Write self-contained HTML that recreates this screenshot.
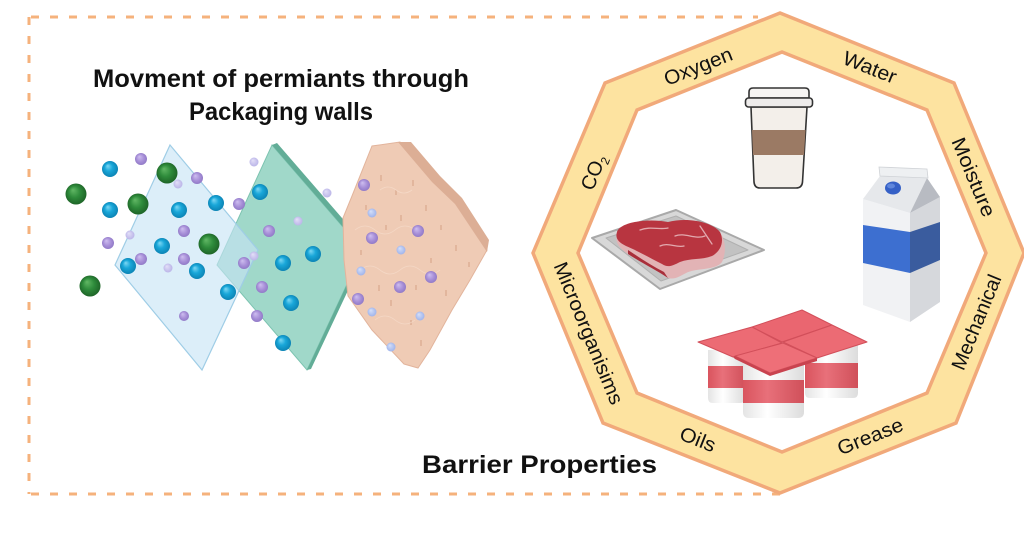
<!DOCTYPE html>
<html><head><meta charset="utf-8"><style>
html,body{margin:0;padding:0;background:#fff;}
svg{display:block;}
text{font-family:"Liberation Sans",Arial,sans-serif;}
</style></head><body>
<svg width="1024" height="552" viewBox="0 0 1024 552" xmlns="http://www.w3.org/2000/svg">
<defs>
<radialGradient id="gG" cx="50%" cy="50%" r="55%" fx="35%" fy="30%"><stop offset="0" stop-color="#62b865"/><stop offset="0.5" stop-color="#2e8b3b"/><stop offset="1" stop-color="#1c5f25"/></radialGradient>
<radialGradient id="gB" cx="50%" cy="50%" r="55%" fx="35%" fy="30%"><stop offset="0" stop-color="#7fd8f4"/><stop offset="0.45" stop-color="#19a7d9"/><stop offset="1" stop-color="#0a7fb0"/></radialGradient>
<radialGradient id="gP" cx="50%" cy="50%" r="55%" fx="35%" fy="30%"><stop offset="0" stop-color="#cfbff0"/><stop offset="0.6" stop-color="#a68ed7"/><stop offset="1" stop-color="#8d76c4"/></radialGradient>
<radialGradient id="gL" cx="50%" cy="50%" r="55%" fx="35%" fy="30%"><stop offset="0" stop-color="#e4e0f8"/><stop offset="1" stop-color="#b8b2e7"/></radialGradient>
<radialGradient id="gS" cx="50%" cy="50%" r="55%" fx="35%" fy="30%"><stop offset="0" stop-color="#d6e0f9"/><stop offset="1" stop-color="#9cb1ea"/></radialGradient>
<linearGradient id="cupW" x1="0" x2="1"><stop offset="0" stop-color="#e4e4e4"/><stop offset="0.4" stop-color="#ffffff"/><stop offset="1" stop-color="#dcdcdc"/></linearGradient>
<linearGradient id="cupR" x1="0" x2="1"><stop offset="0" stop-color="#d9545e"/><stop offset="0.4" stop-color="#e8707a"/><stop offset="1" stop-color="#d0505a"/></linearGradient>
</defs>

<!-- dashed frame -->
<g stroke="#f5b27c" stroke-width="3" stroke-dasharray="8 11" fill="none">
<line x1="31" y1="17" x2="758" y2="17"/>
<line x1="29" y1="17" x2="29" y2="494"/>
<line x1="31" y1="494" x2="780" y2="494"/>
</g>

<!-- titles -->
<text x="281" y="87" text-anchor="middle" font-size="25" font-weight="bold" fill="#111" textLength="376" lengthAdjust="spacingAndGlyphs">Movment of permiants through</text>
<text x="281" y="120" text-anchor="middle" font-size="25" font-weight="bold" fill="#111" textLength="184" lengthAdjust="spacingAndGlyphs">Packaging walls</text>
<text x="422" y="473" font-size="25" font-weight="bold" fill="#111" textLength="235" lengthAdjust="spacingAndGlyphs">Barrier Properties</text>

<!-- panel 2 (teal) -->
<polygon points="272,145 363,250 307,370 217,265" fill="#a0d8c9" stroke="#7cc3b0" stroke-width="1"/>
<polygon points="272,145 277,143 368,248 311,369 307,370 363,250" fill="#62ad97"/>
<!-- panel 1 (light blue) -->
<polygon points="170,145 258,250 202,370 115,265" fill="#c6e4f5" fill-opacity="0.62" stroke="#9fcde6" stroke-width="1.2"/>

<!-- sponge -->
<polygon points="343,218 352,196 372,146 400,142 432,178 455,200 487,250 470,280 452,310 430,350 418,368 404,364 372,330 348,296 344,260" fill="#efcbb5" stroke="#e2b49c" stroke-width="1"/>
<polygon points="398,142 411,142 440,176 462,198 489,240 487,252 455,204 432,182" fill="#dcae95"/>
<g fill="#dfb198" opacity="0.8">
<rect x="380" y="175" width="2" height="6"/><rect x="395" y="190" width="2" height="5"/><rect x="412" y="180" width="2" height="6"/>
<rect x="425" y="205" width="2" height="6"/><rect x="440" y="225" width="2" height="5"/><rect x="455" y="245" width="2" height="6"/>
<rect x="385" y="225" width="2" height="5"/><rect x="400" y="215" width="2" height="6"/><rect x="430" y="258" width="2" height="5"/>
<rect x="390" y="300" width="2" height="6"/><rect x="410" y="320" width="2" height="5"/><rect x="445" y="290" width="2" height="6"/>
<rect x="360" y="250" width="2" height="5"/><rect x="415" y="285" width="2" height="5"/><rect x="378" y="285" width="2" height="6"/>
<rect x="468" y="262" width="2" height="5"/><rect x="420" y="340" width="2" height="6"/><rect x="365" y="205" width="2" height="5"/>
</g>
<g fill="none" stroke="#f6dccb" stroke-width="0.8" opacity="0.8">
<path d="M355,230 q10,-8 20,0 t20,0 t20,0"/><path d="M360,270 q10,-8 20,0 t20,0 t20,0 t20,0"/><path d="M375,320 q10,-8 20,0 t20,0"/><path d="M380,190 q8,-6 16,0 t16,0"/>
</g>

<!-- green particles -->
<g fill="url(#gG)">
<circle cx="76" cy="194" r="10.5"/><circle cx="138" cy="204" r="10.5"/><circle cx="167" cy="173" r="10.5"/><circle cx="209" cy="244" r="10.5"/><circle cx="90" cy="286" r="10.5"/>
</g>
<!-- blue particles -->
<g fill="url(#gB)">
<circle cx="110" cy="169" r="8"/><circle cx="110" cy="210" r="8"/><circle cx="179" cy="210" r="8"/><circle cx="216" cy="203" r="8"/><circle cx="162" cy="246" r="8"/><circle cx="128" cy="266" r="8"/><circle cx="197" cy="271" r="8"/><circle cx="228" cy="292" r="8"/><circle cx="260" cy="192" r="8"/><circle cx="283" cy="263" r="8"/><circle cx="313" cy="254" r="8"/><circle cx="291" cy="303" r="8"/><circle cx="283" cy="343" r="8"/>
</g>
<!-- purple particles -->
<g fill="url(#gP)">
<circle cx="141" cy="159" r="6"/><circle cx="197" cy="178" r="6"/><circle cx="239" cy="204" r="6"/><circle cx="184" cy="231" r="6"/><circle cx="108" cy="243" r="6"/><circle cx="141" cy="259" r="6"/><circle cx="184" cy="259" r="6"/><circle cx="244" cy="263" r="6"/><circle cx="269" cy="231" r="6"/><circle cx="262" cy="287" r="6"/><circle cx="257" cy="316" r="6"/><circle cx="184" cy="316" r="5"/>
<circle cx="364" cy="185" r="6"/><circle cx="372" cy="238" r="6"/><circle cx="418" cy="231" r="6"/><circle cx="400" cy="287" r="6"/><circle cx="431" cy="277" r="6"/><circle cx="358" cy="299" r="6"/>
</g>
<!-- light particles -->
<g fill="url(#gL)">
<circle cx="178" cy="184" r="4.5"/><circle cx="254" cy="162" r="4.5"/><circle cx="130" cy="235" r="4.5"/><circle cx="168" cy="268" r="4.5"/><circle cx="254" cy="256" r="4.5"/><circle cx="327" cy="193" r="4.5"/><circle cx="298" cy="221" r="4.5"/>
</g>
<g fill="url(#gS)">
<circle cx="372" cy="213" r="4.5"/><circle cx="401" cy="250" r="4.5"/><circle cx="361" cy="271" r="4.5"/><circle cx="372" cy="312" r="4.5"/><circle cx="420" cy="316" r="4.5"/><circle cx="391" cy="347" r="4.5"/>
</g>

<!-- octagon band -->
<polygon points="780,13 954,83 1024,253 956,423 780,493 603,423 533,253 605,83" fill="#fde3a0" stroke="#f1a97a" stroke-width="3.5" stroke-linejoin="miter"/>
<polygon points="782,52 927,110 986,253 927,393 782,452 637,393 578,253 637,110" fill="#ffffff" stroke="#f1a97a" stroke-width="3.5"/>

<!-- band labels -->
<g font-size="20" fill="#111" text-anchor="middle">
<text transform="translate(698,66) rotate(-21.7)" dy="0.36em" textLength="72" lengthAdjust="spacingAndGlyphs">Oxygen</text>
<text transform="translate(870,67) rotate(21.7)" dy="0.36em" textLength="56" lengthAdjust="spacingAndGlyphs">Water</text>
<text transform="translate(974,177) rotate(67.3)" dy="0.36em" textLength="84" lengthAdjust="spacingAndGlyphs">Moisture</text>
<text transform="translate(976,322) rotate(-67.7)" dy="0.36em" textLength="101" lengthAdjust="spacingAndGlyphs">Mechanical</text>
<text transform="translate(870,436) rotate(-21.7)" dy="0.36em" textLength="69" lengthAdjust="spacingAndGlyphs">Grease</text>
<text transform="translate(698,439) rotate(21.7)" dy="0.36em" textLength="37" lengthAdjust="spacingAndGlyphs">Oils</text>
<text transform="translate(589,333) rotate(67.6)" dy="0.36em" textLength="152" lengthAdjust="spacingAndGlyphs">Microorganisims</text>
<text transform="translate(593,172) rotate(-67.7)" dy="0.36em">CO<tspan font-size="12" dy="4">2</tspan></text>
</g>

<!-- coffee cup -->
<path d="M751,107 L807,107 L802.5,182 Q802,188 796,188 L760,188 Q754.5,188 754,182 Z" fill="#f3efea" stroke="#333" stroke-width="1.6" stroke-linejoin="round"/>
<polygon points="752,130 805.5,130 804,155 753,155" fill="#9b7a64"/>
<path d="M749,98 L749,92 Q749,88 753,88 L805,88 Q809,88 809,92 L809,98 Z" fill="#f6f4f2" stroke="#333" stroke-width="1.6" stroke-linejoin="round"/>
<rect x="745.5" y="98" width="67" height="9" rx="3" fill="#eeeceb" stroke="#333" stroke-width="1.6"/>

<!-- milk carton -->
<polygon points="863,199 910,213 910,322 863,305" fill="#f1f2f4"/>
<polygon points="910,213 940,197 940,302 910,322" fill="#d6d8dc"/>
<polygon points="863,199 880,176 927,178 910,213" fill="#e6e8eb"/>
<polygon points="910,213 927,178 940,197" fill="#b8bbc2"/>
<polygon points="879,167 927,169 928,178 880,176" fill="#eef0f2" stroke="#cfd2d6" stroke-width="0.8"/>
<polygon points="863,225 910,232 910,273 863,263" fill="#3d6fd0"/>
<polygon points="910,232 940,222 940,260 910,273" fill="#3a5c9e"/>
<ellipse cx="893" cy="188" rx="8" ry="6.5" fill="#3560c6"/>
<ellipse cx="891" cy="186" rx="4" ry="2.5" fill="#5f86dc"/>

<!-- meat tray -->
<polygon points="592,238 676,210 764,250 660,289" fill="#d8d8d8" stroke="#a9a9a9" stroke-width="2" stroke-linejoin="round"/>
<polygon points="606,238 676,216 748,250 661,281" fill="#c2c2c2" stroke="#b0b0b0" stroke-width="1" stroke-linejoin="round"/>
<path d="M617,236 C620,224 648,220 668,224 C688,219 712,224 721,234 C727,244 725,256 722,262 C716,270 700,268 688,272 C680,276 675,280 668,278 C656,270 640,262 628,254 C619,248 615,242 617,236Z" fill="#e2b3b5"/>
<path d="M628,250 C640,258 652,266 664,272 L668,278 C656,270 640,262 628,254Z" fill="#a92f3b"/>
<path d="M617,232 C620,222 648,218 668,222 C688,217 712,222 720,232 C725,242 720,252 712,256 C702,260 690,258 680,262 C672,266 668,268 662,264 C650,258 636,250 626,246 C618,242 615,238 617,232Z" fill="#b83540"/>
<g fill="none" stroke="#e7b6bb" stroke-width="1.3" stroke-linecap="round" opacity="0.9">
<path d="M640,230 C650,226 660,230 668,228"/><path d="M675,236 C685,232 695,240 705,236"/><path d="M660,246 C668,242 676,248 684,246"/><path d="M700,226 L712,244"/>
</g>

<!-- yogurt: cups -->
<path d="M708,350 L745,350 L745,398 Q745,403 740,403 L713,403 Q708,403 708,398Z" fill="url(#cupW)"/>
<rect x="708" y="366" width="37" height="22" fill="url(#cupR)"/>
<path d="M805,345 L858,345 L858,393 Q858,398 853,398 L810,398 Q805,398 805,393Z" fill="url(#cupW)"/>
<rect x="805" y="363" width="53" height="25" fill="url(#cupR)"/>
<path d="M743,362 L804,362 L804,412 Q804,418 798,418 L749,418 Q743,418 743,412Z" fill="url(#cupW)"/>
<rect x="743" y="380" width="61" height="23" fill="url(#cupR)"/>
<!-- yogurt lids -->
<g stroke="#d24f5a" stroke-width="1" stroke-linejoin="round">
<polygon points="752,327 802,310 832,325 782,342" fill="#ea6670"/>
<polygon points="698,342 752,327 782,343 733,357" fill="#ec6b74"/>
<polygon points="783,342 832,325 867,342 817,358" fill="#ec6b74"/>
<polygon points="735,356 783,343 817,358 770,373" fill="#ee6f78"/>
</g>
<polygon points="733,357 735,356 770,373 817,358 817,361 770,376 735,359" fill="#c9434f"/>
</svg>
</body></html>
